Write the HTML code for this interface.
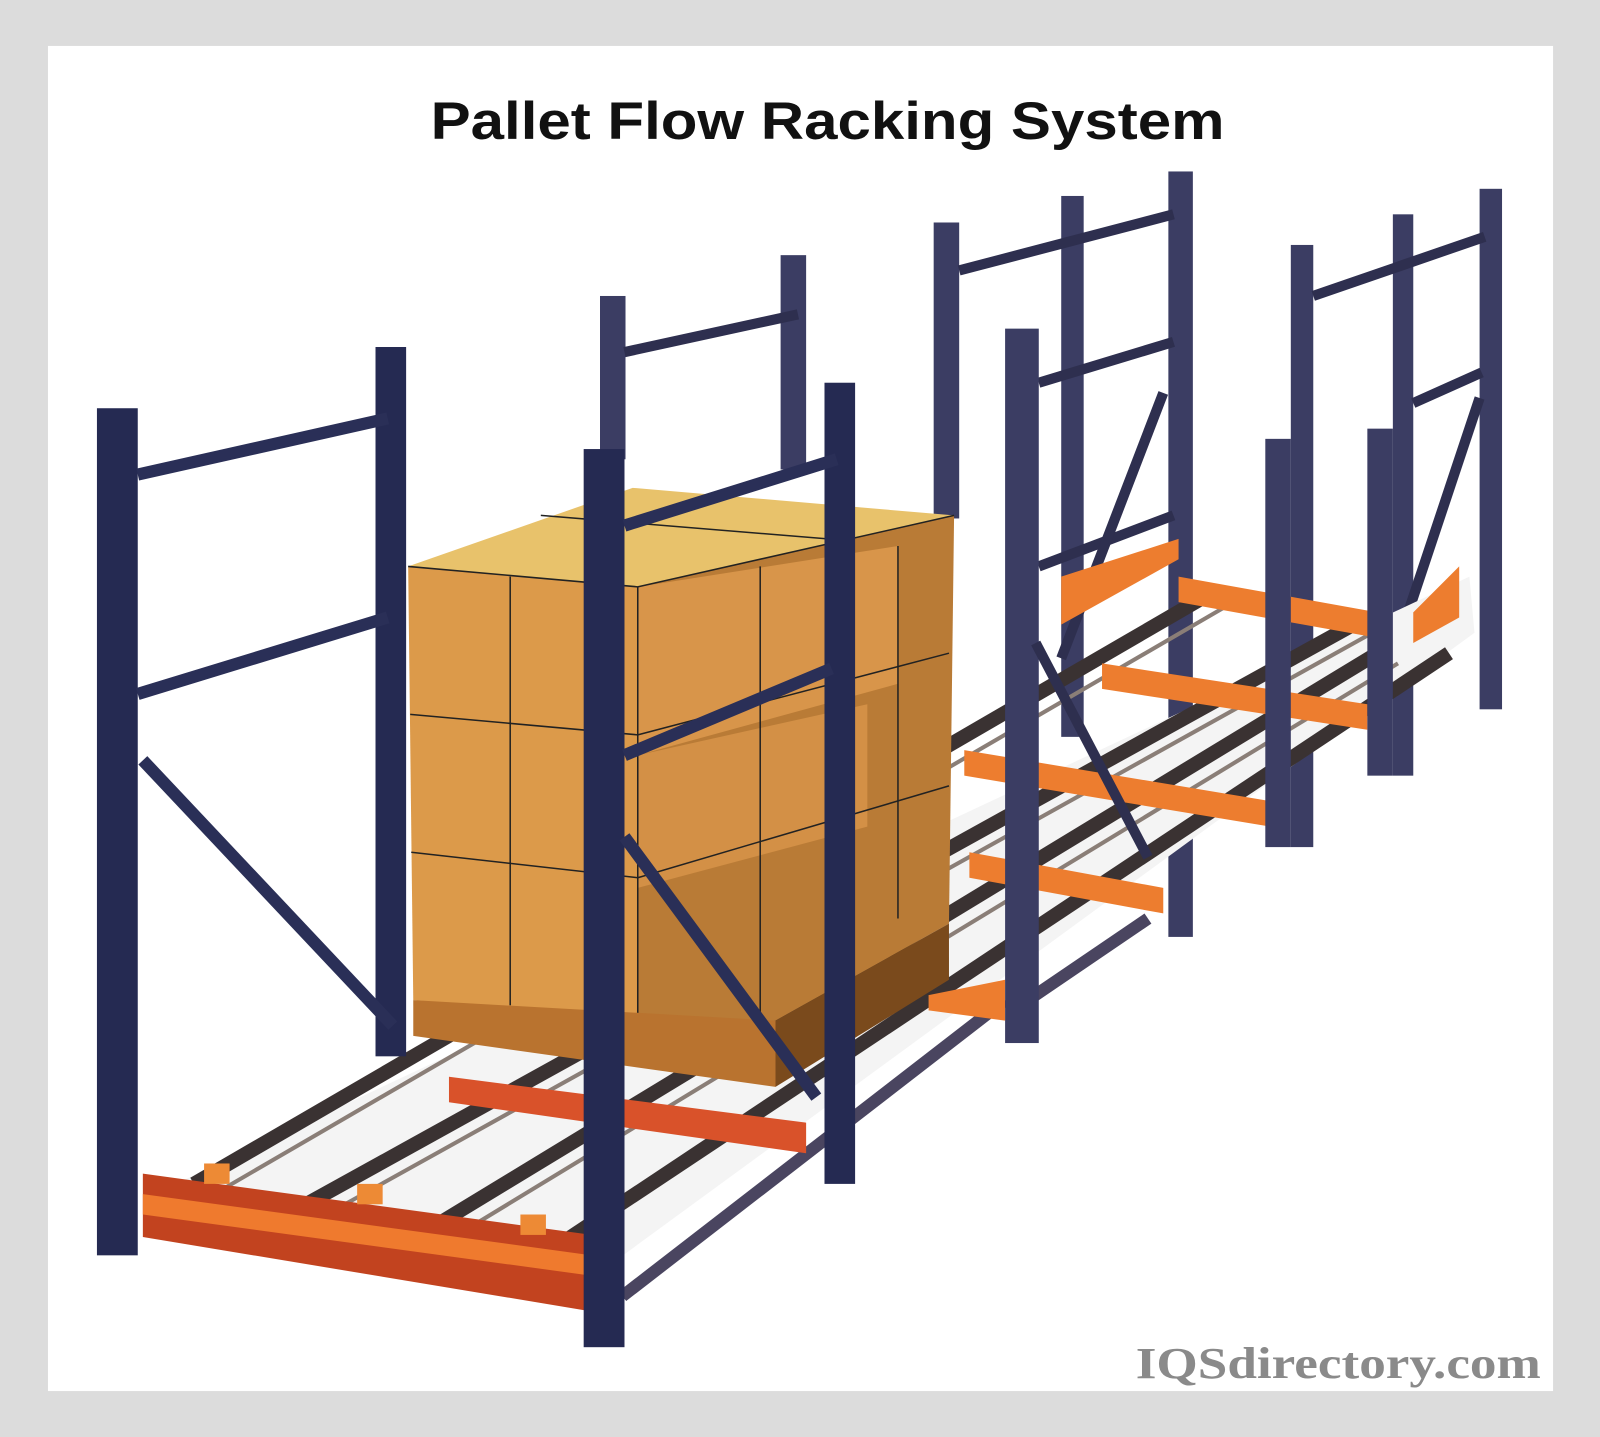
<!DOCTYPE html>
<html><head><meta charset="utf-8"><style>
html,body{margin:0;padding:0;background:#dcdcdc;}
svg{display:block;}
</style></head><body>
<svg width="1600" height="1437" viewBox="0 0 1568 1408" preserveAspectRatio="none" xmlns="http://www.w3.org/2000/svg">
<rect x="0" y="0" width="1568" height="1408" fill="#dcdcdc"/>
<rect x="47" y="45" width="1475" height="1318" fill="#ffffff"/>
<text x="422" y="136" textLength="778" lengthAdjust="spacingAndGlyphs" font-family="Liberation Sans, sans-serif" font-weight="bold" font-size="52" fill="#111">Pallet Flow Racking System</text>
<text x="1113" y="1350" textLength="397" lengthAdjust="spacingAndGlyphs" font-family="Liberation Serif, serif" font-weight="bold" font-size="44" fill="#8a8a8a">IQSdirectory.com</text>

<!-- far right rear frames -->
<g fill="#3b3d63">
<rect x="1450" y="185" width="22" height="510"/>
<rect x="1365" y="210" width="20" height="550"/>
<rect x="1265" y="240" width="22" height="590"/>
<rect x="915" y="218" width="25" height="290"/>
<rect x="1040" y="192" width="22" height="530"/>
<rect x="1145" y="168" width="24" height="750"/>
<rect x="765" y="250" width="25" height="210"/>
<rect x="588" y="290" width="25" height="160"/>
</g>
<g stroke="#2e2f4f" stroke-width="10">
<line x1="1287" y1="290" x2="1455" y2="232"/>
<line x1="1385" y1="395" x2="1452" y2="365"/>
<line x1="940" y1="265" x2="1150" y2="210"/>
<line x1="1018" y1="375" x2="1150" y2="335"/>
<line x1="1018" y1="555" x2="1150" y2="505"/>
<line x1="612" y1="345" x2="782" y2="308"/>
<line x1="1360" y1="660" x2="1450" y2="390"/>
<line x1="1040" y1="645" x2="1140" y2="385"/>
</g>

<!-- roller lanes floor -->
<polygon points="140,1175 1440,565 1445,620 590,1245" fill="#f4f4f4"/>
<g stroke="#3a3232" stroke-width="14">
<line x1="190" y1="1160" x2="1180" y2="585"/>
<line x1="300" y1="1180" x2="1330" y2="610"/>
<line x1="420" y1="1205" x2="1350" y2="640"/>
<line x1="540" y1="1225" x2="1420" y2="640"/>
</g>
<g stroke="#8a7e77" stroke-width="4">
<line x1="210" y1="1170" x2="1200" y2="595"/>
<line x1="320" y1="1190" x2="1345" y2="620"/>
<line x1="440" y1="1215" x2="1370" y2="650"/>
</g>
<g stroke="#4a4560" stroke-width="12">
<line x1="610" y1="1270" x2="985" y2="980"/>
<line x1="1000" y1="985" x2="1125" y2="900"/>
</g>

<!-- mid/rear orange beams -->
<g fill="#ed7d2f">
<polygon points="1040,565 1155,528 1155,548 1040,612"/>
<polygon points="1155,565 1350,600 1350,625 1155,590"/>
<polygon points="1080,650 1340,690 1340,715 1080,675"/>
<polygon points="945,735 1245,785 1245,810 945,760"/>
<polygon points="950,835 1140,870 1140,895 950,860"/>
<polygon points="1385,600 1430,555 1430,605 1385,630"/>
<polygon points="910,975 985,960 985,1000 910,990"/>
</g>

<!-- middle frame -->
<g fill="#3b3d63">
<rect x="985" y="322" width="33" height="700"/>
<rect x="1240" y="430" width="25" height="400"/>
<rect x="1340" y="420" width="25" height="340"/>
</g>
<g stroke="#2e2f4f" stroke-width="10">
<line x1="1015" y1="630" x2="1125" y2="840"/>
</g>

<!-- box -->
<polygon points="400,555 620,478 935,505 625,575" fill="#e8c26b"/>
<polygon points="400,555 625,575 625,1000 405,980" fill="#dc9a4a"/>
<polygon points="625,575 935,505 930,905 760,1000 625,1000" fill="#b97b36"/>
<polygon points="625,575 880,535 880,670 625,740" fill="#d8954a"/>
<polygon points="625,740 850,690 850,810 625,870" fill="#d39046"/>
<g stroke="#222" stroke-width="1.5" fill="none">
<polyline points="400,555 625,575 935,505"/>
<line x1="625" y1="575" x2="625" y2="1000"/>
<line x1="500" y1="565" x2="500" y2="985"/>
<line x1="402" y1="700" x2="625" y2="720"/>
<line x1="403" y1="835" x2="625" y2="860"/>
<line x1="625" y1="720" x2="930" y2="640"/>
<line x1="625" y1="860" x2="930" y2="770"/>
<line x1="880" y1="535" x2="880" y2="900"/>
<line x1="745" y1="555" x2="745" y2="1000"/>
<line x1="530" y1="505" x2="835" y2="530"/>
</g>
<polygon points="405,980 760,1000 760,1065 405,1015" fill="#b9732f"/>
<polygon points="760,1000 930,905 930,960 760,1065" fill="#7a4a1c"/>

<!-- left frame -->
<g fill="#252a52">
<rect x="368" y="340" width="30" height="695"/>
<rect x="95" y="400" width="40" height="830"/>
</g>
<g stroke="#2a2f57" stroke-width="12">
<line x1="135" y1="465" x2="380" y2="410"/>
<line x1="135" y1="680" x2="380" y2="605"/>
<line x1="140" y1="745" x2="385" y2="1005"/>
</g>

<!-- front beams -->
<polygon points="440,1055 790,1100 790,1130 440,1080" fill="#d9522a"/>
<polygon points="140,1150 580,1210 580,1285 140,1212" fill="#c2431f"/>
<polygon points="140,1170 580,1230 580,1250 140,1190" fill="#ef7a2e"/>
<g fill="#ed8a35">
<rect x="200" y="1140" width="25" height="20"/>
<rect x="350" y="1160" width="25" height="20"/>
<rect x="510" y="1190" width="25" height="20"/>
</g>

<!-- front right frame -->
<g fill="#252a52">
<rect x="808" y="375" width="30" height="785"/>
<rect x="572" y="440" width="40" height="880"/>
</g>
<g stroke="#2a2f57" stroke-width="12">
<line x1="612" y1="515" x2="820" y2="450"/>
<line x1="612" y1="740" x2="815" y2="655"/>
<line x1="612" y1="820" x2="800" y2="1075"/>
</g>
</svg>
</body></html>
